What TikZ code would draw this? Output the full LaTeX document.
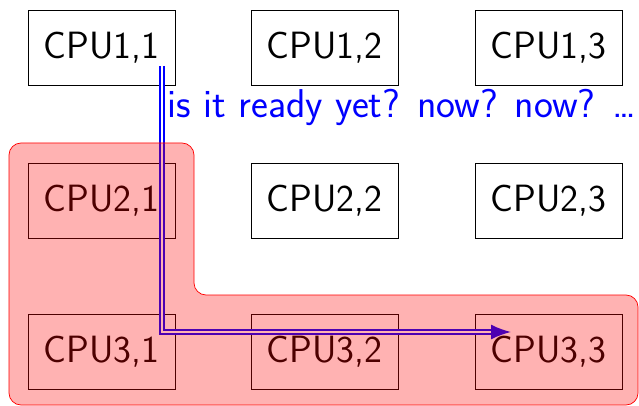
\documentclass[tikz,border=0pt]{standalone}
\usetikzlibrary{arrows.meta,calc}
\begin{document}
\begin{tikzpicture}[x=1pt,y=-1pt,
  cpu/.style={draw=black,line width=0.8pt,minimum width=147pt,minimum height=75pt,
    inner sep=0pt,font=\sffamily\fontsize{38}{44}\selectfont},
  pollpath/.style={draw=blue,line width=1.8pt,double=white,double distance=1.5pt,
    -{Latex[length=20pt,width=15pt,fill=blue]}},
  region/.style={draw=red,line width=0.7pt,fill=red,fill opacity=0.3,rounded corners=12pt}]
\useasboundingbox (0,0) rectangle (639,406);
% grid of processors
\foreach \r/\y in {1/47.5,2/200.5,3/352}{
  \foreach \c/\x in {1/101.5,2/324.5,3/548.5}{
    \node[cpu] (c\r\c) at (\x,\y) {CPU\r,\c};
  }
}
% polling path from CPU1,1 to CPU3,3
\coordinate (src) at (162,66);
\coordinate (dst) at (511,332);
\draw[pollpath] (src) |- (dst);
\node[anchor=west,text=blue,inner sep=0pt,font=\sffamily\fontsize{40.2}{46}\selectfont]
  (msg) at (167,107) {is it ready yet? now? now? \ldots};
% highlighted group
\path[region] (9,143) -- (194,143) -- (194,295) -- (638,295) -- (638,405) -- (9,405) -- cycle;
\end{tikzpicture}
\end{document}
